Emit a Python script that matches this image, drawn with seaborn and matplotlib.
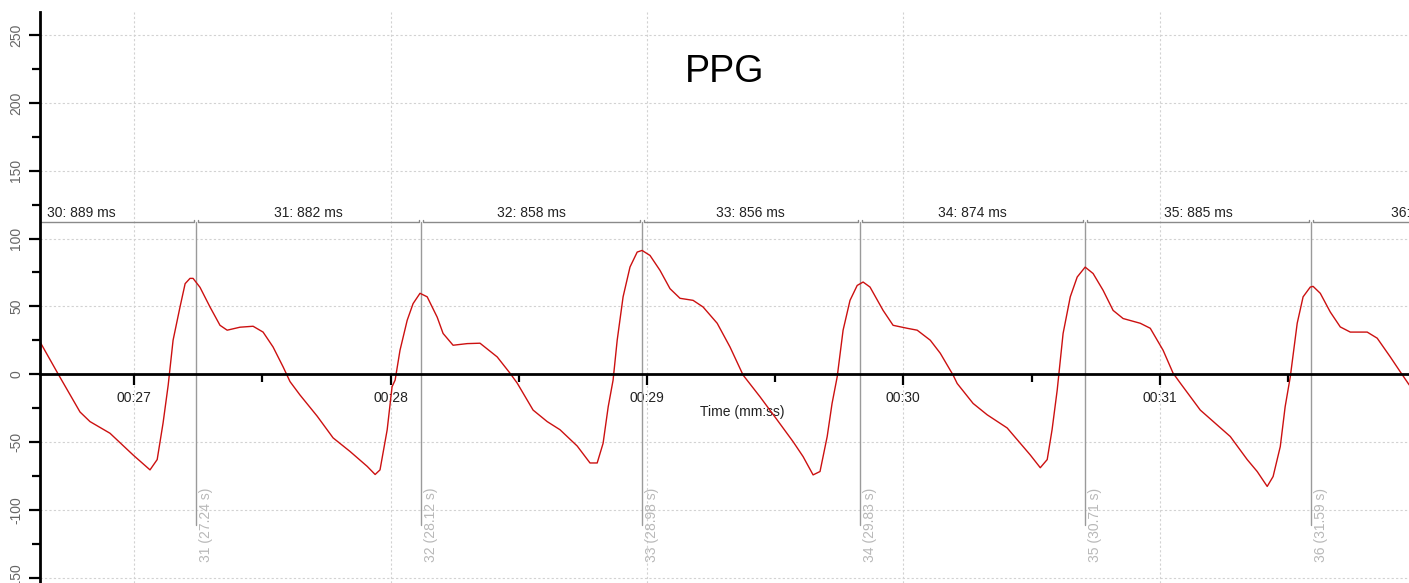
import matplotlib
matplotlib.use("Agg")
import matplotlib.pyplot as plt
import matplotlib.transforms as mtransforms
from matplotlib.ticker import MultipleLocator, FuncFormatter
import pandas as pd
import seaborn as sns

# PPG waveform samples (time in seconds, amplitude in arbitrary units)
time_s = [
    26.633, 26.704, 26.789, 26.828, 26.906, 26.996, 27.062, 27.090, 27.113, 27.133,
    27.152, 27.179, 27.199, 27.218, 27.230, 27.257, 27.296, 27.335, 27.363, 27.413,
    27.464, 27.503, 27.542, 27.581, 27.608, 27.647, 27.714, 27.776, 27.842, 27.909,
    27.940, 27.959, 27.987, 28.006, 28.018, 28.037, 28.065, 28.088, 28.115, 28.143,
    28.182, 28.205, 28.244, 28.299, 28.349, 28.416, 28.466, 28.494, 28.556, 28.611,
    28.661, 28.728, 28.778, 28.806, 28.829, 28.849, 28.868, 28.884, 28.907, 28.934,
    28.962, 28.981, 29.012, 29.051, 29.090, 29.129, 29.180, 29.219, 29.274, 29.324,
    29.375, 29.441, 29.508, 29.570, 29.609, 29.648, 29.675, 29.703, 29.722, 29.742,
    29.765, 29.792, 29.820, 29.843, 29.870, 29.921, 29.960, 30.015, 30.054, 30.105,
    30.144, 30.194, 30.210, 30.272, 30.327, 30.405, 30.456, 30.495, 30.534, 30.561,
    30.580, 30.600, 30.623, 30.651, 30.678, 30.709, 30.740, 30.779, 30.818, 30.857,
    30.924, 30.963, 31.013, 31.052, 31.080, 31.158, 31.224, 31.275, 31.341, 31.380,
    31.419, 31.442, 31.470, 31.489, 31.509, 31.536, 31.559, 31.587, 31.598, 31.626,
    31.665, 31.704, 31.743, 31.809, 31.848, 31.899, 31.938, 31.973,
]
ppg = [
    23.8, 0.0, -27.9, -35.0, -43.6, -59.6, -70.6, -63.0, -36.0, -8.0,
    25.0, 49.5, 66.7, 70.6, 70.6, 64.0, 49.5, 36.0, 32.4, 34.6,
    35.3, 31.0, 20.0, 5.4, -5.5, -15.4, -31.0, -47.0, -57.0, -68.0,
    -74.0, -70.6, -41.0, -9.3, -4.4, 17.6, 39.7, 52.0, 59.6, 57.0,
    42.0, 30.0, 21.3, 22.5, 22.8, 12.7, 0.7, -6.6, -26.5, -35.0,
    -41.0, -53.0, -65.5, -65.5, -51.0, -24.0, -4.4, 25.0, 57.0, 79.0,
    90.0, 91.2, 87.5, 76.5, 63.0, 55.9, 54.4, 49.5, 37.5, 20.0,
    -0.7, -16.7, -33.8, -49.8, -60.8, -74.3, -71.8, -46.0, -21.6, -2.0,
    32.4, 54.4, 65.4, 67.9, 64.2, 47.0, 36.0, 33.8, 32.4, 25.0,
    15.4, -0.7, -6.9, -21.6, -30.0, -39.7, -51.0, -59.6, -69.0, -63.0,
    -41.0, -11.8, 30.0, 57.0, 71.6, 78.9, 74.2, 61.8, 47.0, 41.0,
    37.5, 33.8, 17.6, 0.7, -6.6, -26.5, -37.5, -46.0, -63.0, -71.8,
    -82.8, -75.5, -53.4, -24.0, -2.0, 37.5, 57.0, 64.2, 64.7, 59.6,
    45.8, 34.8, 31.0, 31.0, 26.5, 12.7, 1.7, -8.0,
]

# Detected beats and inter-beat intervals
beat_ids = [31, 32, 33, 34, 35, 36]
beat_times = [27.24, 28.12, 28.98, 29.83, 30.71, 31.59]
interval_ids = [30, 31, 32, 33, 34, 35, 36]
interval_ms = [889, 882, 858, 856, 874, 885, 890]

df = pd.DataFrame({"Time": time_s, "PPG": ppg})

sns.set_theme(style="white")
plt.rcParams["font.family"] = ["Liberation Sans", "DejaVu Sans"]
plt.rcParams["axes.unicode_minus"] = False

W, H = 1409, 583
fig = plt.figure(figsize=(W / 100, H / 100), dpi=100)
ax = fig.add_axes([40 / W, 0, 1369 / W, 571 / H])

sns.lineplot(data=df, x="Time", y="PPG", ax=ax, color="#cc1010",
             linewidth=1.0, estimator=None, sort=False, zorder=3)

ax.set_xlim(26.633, 31.972)
ax.set_ylim(-154, 267)

# Axes: left spine plus a zero line carrying the time axis
for side in ("top", "right"):
    ax.spines[side].set_visible(False)
ax.spines["bottom"].set_position(("data", 0))
for side in ("left", "bottom"):
    ax.spines[side].set_color("black")
    ax.spines[side].set_linewidth(2.0)
    ax.spines[side].set_zorder(4)

ax.xaxis.set_major_locator(MultipleLocator(1))
ax.xaxis.set_minor_locator(MultipleLocator(0.5))
ax.yaxis.set_major_locator(MultipleLocator(50))
ax.yaxis.set_minor_locator(MultipleLocator(25))
ax.xaxis.set_major_formatter(
    FuncFormatter(lambda v, p: f"{int(round(v)) // 60:02d}:{int(round(v)) % 60:02d}"))

ax.tick_params(which="both", direction="out", color="black", width=1.6,
               bottom=True, left=True)
ax.tick_params(which="major", length=8)
ax.tick_params(which="minor", length=6)
ax.tick_params(axis="x", labelsize=10, labelcolor="#222222", pad=4)
ax.tick_params(axis="y", labelsize=10, labelcolor="#666666", pad=4, labelrotation=90)
for lab in ax.get_yticklabels():
    lab.set_va("center")

ax.set_axisbelow(True)
ax.grid(True, which="major", color="#d2d2d2", linestyle=(0, (2, 2)), linewidth=0.8)

ax.set_xlabel("Time (mm:ss)", fontsize=10, color="#222222")
ax.xaxis.set_label_coords((742 - 40) / 1369, (583 - 405) / 571)
ax.set_ylabel("")

ax.set_title("PPG", fontsize=27, color="black", y=(583 - 82) / 571, pad=0)

# Beat markers with their time labels
lab_tr = mtransforms.offset_copy(ax.transData, fig=fig, x=3, y=0, units="dots")
for bid, bt in zip(beat_ids, beat_times):
    ax.plot([bt, bt], [112, -111], color="#9a9a9a", linewidth=1.0, zorder=2)
    ax.text(bt, -111, f"{bid} ({bt:.2f} s)", rotation=90, ha="left", va="center",
            color="#b8b8b8", fontsize=10, transform=lab_tr)

# Interval brackets and labels
bounds = [beat_times[0] - interval_ms[0] / 1000] + beat_times + \
         [beat_times[-1] + interval_ms[-1] / 1000]
txt_tr = mtransforms.offset_copy(ax.transData, fig=fig, x=0, y=5, units="dots")
gap = 0.008
for i, (iid, ms) in enumerate(zip(interval_ids, interval_ms)):
    a, b = bounds[i] + gap, bounds[i + 1] - gap
    ax.plot([a, a, b, b], [113.5, 112, 112, 113.5], color="#8a8a8a",
            linewidth=1.0, zorder=2)
    ax.text((bounds[i] + bounds[i + 1]) / 2, 112, f"{iid}: {ms} ms",
            ha="center", va="baseline", fontsize=10, color="#222222",
            transform=txt_tr, clip_on=True)

fig.savefig("out.png", dpi=100)
